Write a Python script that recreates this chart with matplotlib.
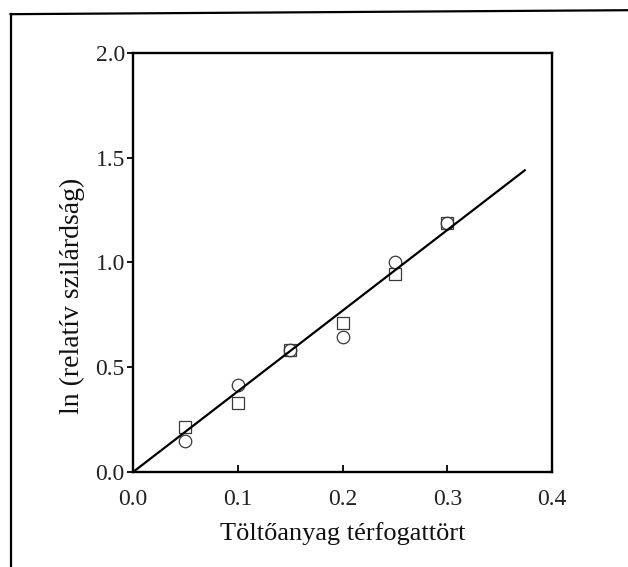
import matplotlib
matplotlib.use("Agg")
import matplotlib.pyplot as plt
from matplotlib.lines import Line2D

# filler volume fraction vs. ln(relative strength)
x_vals = [0.05, 0.10, 0.15, 0.20, 0.25, 0.30]
y_square = [0.215, 0.33, 0.58, 0.71, 0.945, 1.19]
y_circle = [0.15, 0.415, 0.58, 0.645, 1.00, 1.19]

# fitted line through the origin
fit_x = [0.0, 0.374]
fit_slope = 3.85

plt.rcParams["font.family"] = ["Liberation Serif", "DejaVu Serif"]

fig = plt.figure(figsize=(6.28, 5.67), dpi=100)
ax = fig.add_axes([0.212, 0.1676, 0.667, 0.739])

ink = "#3a3a3a"
ax.plot(x_vals, y_square, "s", ms=8.5, mfc="none", mec=ink, mew=0.9, zorder=3)
ax.plot(x_vals, y_circle, "o", ms=9, mfc="none", mec=ink, mew=0.9, zorder=3)
ax.plot(fit_x, [fit_slope * v for v in fit_x], color="black", lw=1.6, zorder=4)

ax.set_xlim(0, 0.4)
ax.set_ylim(0, 2.0)
ax.set_xticks([0.0, 0.1, 0.2, 0.3, 0.4])
ax.set_yticks([0.0, 0.5, 1.0, 1.5, 2.0])
ax.set_xticklabels(["0.0", "0.1", "0.2", "0.3", "0.4"])
ax.set_yticklabels(["0.0", "0.5", "1.0", "1.5", "2.0"])
ax.tick_params(axis="x", direction="in", length=5, width=1.3, pad=12,
               labelsize=17, colors="black", labelcolor="#222")
ax.tick_params(axis="y", direction="out", length=4, width=1.3, pad=2,
               labelsize=17, colors="black", labelcolor="#222")
for s in ax.spines.values():
    s.set_linewidth(1.7)

ax.set_xlabel("Töltőanyag térfogattört", fontsize=19, color="#111")
ax.set_ylabel("ln (relatív szilárdság)", fontsize=20, color="#111")
ax.xaxis.set_label_coords(0.5, -0.12)
ax.yaxis.set_label_coords(-0.115, 0.42)

# outer frame of the figure panel
fig.add_artist(Line2D([0.017, 0.017], [0.0, 0.975], transform=fig.transFigure,
                      color="black", lw=1.6))
fig.add_artist(Line2D([0.017, 1.0], [0.975, 0.982], transform=fig.transFigure,
                      color="black", lw=1.6))

fig.savefig("out.png", dpi=100)
